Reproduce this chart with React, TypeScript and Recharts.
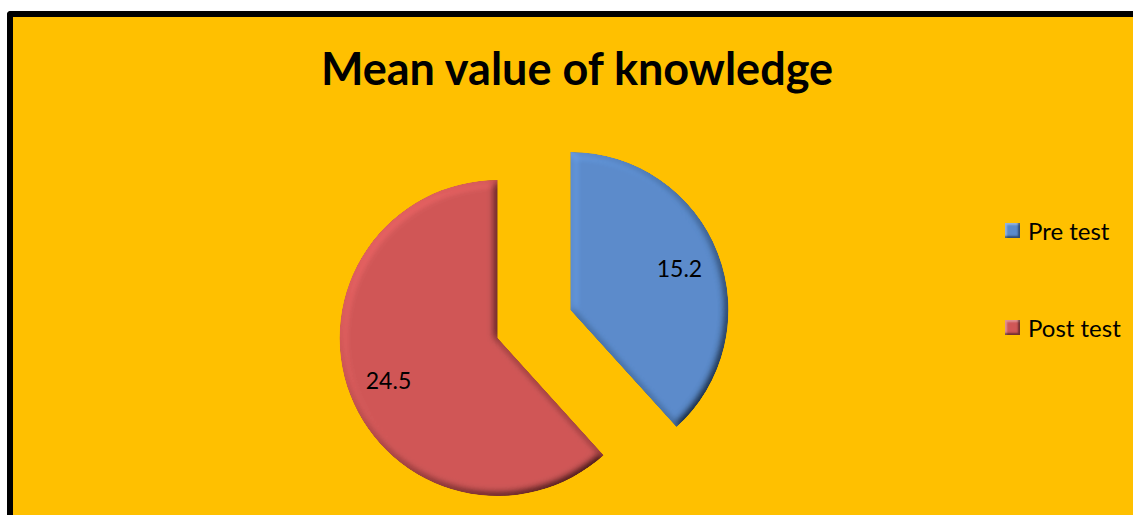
import { PieChart, Pie, Cell, Legend } from 'recharts'

const categories = ['Pre test', 'Post test']
const meanValues = [15.2, 24.5]
const COLORS = ['#5B8BCB', '#D05757']

const data = categories.map((name, i) => ({ name, value: meanValues[i] }))

const W = 1120
const H = 498
const CX = 516
const CY = 302
const R = 158
const EXPLODE = 39
const RAD = Math.PI / 180

const total = meanValues.reduce((a, b) => a + b, 0)

// mid angle of each slice, clockwise from 12 o'clock
const midAngles = meanValues.map((v, i) => {
  const before = meanValues.slice(0, i).reduce((a, b) => a + b, 0)
  return 90 - ((before + v / 2) / total) * 360
})

const FONT = 'Lato, "Open Sans", sans-serif'

const renderLabel = (owner: number) => (props: any) => {
  const { cx, cy, midAngle, outerRadius, value, index } = props
  if (index !== owner) return null
  const r = outerRadius * 0.74
  const x = cx + r * Math.cos(-midAngle * RAD)
  const y = cy + r * Math.sin(-midAngle * RAD)
  return (
    <text x={x} y={y} fill="#000" textAnchor="middle" dominantBaseline="central" fontSize={23} fontFamily={FONT}>
      {value}
    </text>
  )
}

const LegendBox = () => (
  <div style={{ fontFamily: FONT, fontSize: 24, color: '#000' }}>
    {categories.map((c, i) => (
      <div key={c} style={{ display: 'flex', alignItems: 'center', height: 30, marginBottom: i === 0 ? 67 : 0 }}>
        <span
          style={{
            display: 'inline-block',
            width: 15,
            height: 15,
            marginRight: 8,
            background: COLORS[i],
            boxShadow: 'inset -2px -2px 2px rgba(0,0,0,0.45), inset 2px 2px 2px rgba(255,255,255,0.35)',
          }}
        />
        {c}
      </div>
    ))}
  </div>
)

export default function App() {
  return (
    <div
      style={{
        position: 'absolute',
        left: 7,
        top: 11,
        width: W,
        height: H,
        background: '#FFC000',
        borderTop: '6px solid #000',
        borderLeft: '6px solid #000',
        borderTopLeftRadius: 4,
      }}
    >
      <PieChart width={W} height={H}>
        <defs>
          <filter id="bevel" x="-5%" y="-5%" width="110%" height="110%">
            <feGaussianBlur in="SourceAlpha" stdDeviation="4" result="blur" />
            <feDiffuseLighting in="blur" surfaceScale="6" diffuseConstant="1" lightingColor="#ffffff" result="light">
              <feDistantLight azimuth="225" elevation="55" />
            </feDiffuseLighting>
            <feComposite in="SourceGraphic" in2="light" operator="arithmetic" k1="1.22" k2="0" k3="0" k4="0" result="lit" />
            <feComposite in="lit" in2="SourceAlpha" operator="in" />
          </filter>
        </defs>
        <text x={564} y={68} textAnchor="middle" fontFamily={FONT} fontWeight={700} fontSize={45} fill="#000">
          Mean value of knowledge
        </text>
        {meanValues.map((_, owner) => (
          <Pie
            key={owner}
            data={data}
            dataKey="value"
            nameKey="name"
            cx={CX + EXPLODE * Math.cos(midAngles[owner] * RAD)}
            cy={CY - EXPLODE * Math.sin(midAngles[owner] * RAD)}
            outerRadius={R}
            startAngle={90}
            endAngle={-270}
            stroke="none"
            labelLine={false}
            label={renderLabel(owner)}
            isAnimationActive={false}
            legendType="none"
          >
            {data.map((d, i) => (
              <Cell
                key={d.name}
                fill={i === owner ? COLORS[i] : 'transparent'}
                filter={i === owner ? 'url(#bevel)' : undefined}
              />
            ))}
          </Pie>
        ))}
        <Legend
          layout="vertical"
          content={<LegendBox />}
          wrapperStyle={{ left: 992, top: 198, width: 130 }}
        />
      </PieChart>
    </div>
  )
}
